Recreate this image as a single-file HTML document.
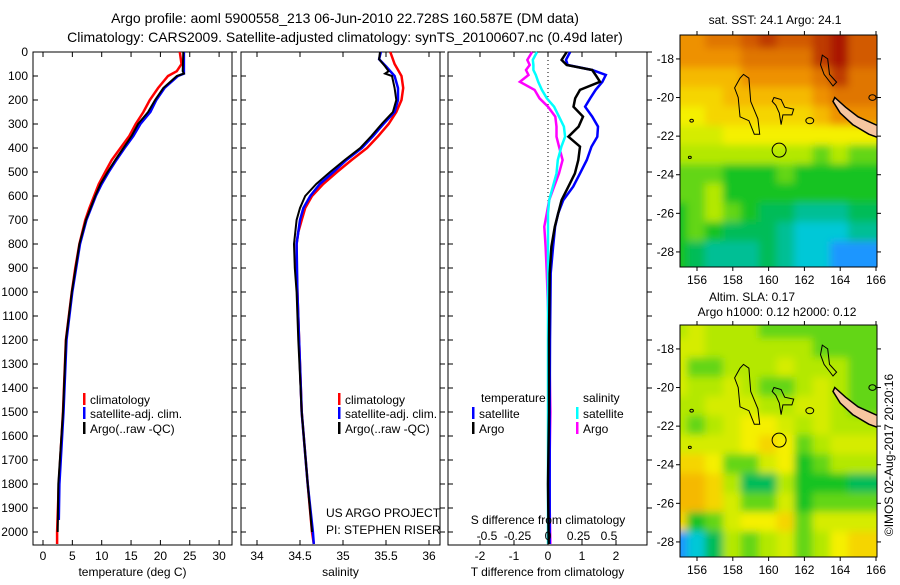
<!DOCTYPE html>
<html><head><meta charset="utf-8">
<style>
html,body{margin:0;padding:0;background:#fff;}
body{width:900px;height:580px;overflow:hidden;font-family:"Liberation Sans",sans-serif;}
svg text{font-family:"Liberation Sans",sans-serif;fill:#000;}
</style></head>
<body>
<svg id="fig" width="900" height="580" viewBox="0 0 900 580" xmlns="http://www.w3.org/2000/svg">
<text x="345" y="23" font-size="14" text-anchor="middle">Argo profile: aoml 5900558_213 06-Jun-2010 22.728S 160.587E (DM data)</text>
<text x="345" y="42" font-size="14" text-anchor="middle">Climatology: CARS2009. Satellite-adjusted climatology: synTS_20100607.nc (0.49d later)</text>
<text x="775" y="24" font-size="12" text-anchor="middle">sat. SST: 24.1 Argo: 24.1</text>
<text x="752" y="301" font-size="12" text-anchor="middle">Altim. SLA: 0.17</text>
<text x="777" y="316" font-size="12" text-anchor="middle">Argo h1000: 0.12 h2000: 0.12</text>
<text transform="translate(893,455) rotate(-90)" font-size="12" text-anchor="middle">©IMOS 02-Aug-2017 20:20:16</text>
<g id="plots"></g>
</svg>
<script>
// ---------- data ----------
const depthTicks=[0,100,200,300,400,500,600,700,800,900,1000,1100,1200,1300,1400,1500,1600,1700,1800,1900,2000];
const tempTicks=[0,5,10,15,20,25,30];
const salTicks=[34,34.5,35,35.5,36];
const tdiffTicks=[-2,-1,0,1,2];
const sdiffTicks=[-0.5,-0.25,0,0.25,0.5];

const tClimDepth=[0,50,80,100,150,200,250,300,350,400,450,500,550,600,650,700,800,900,1000,1200,1500,1800,2000,2050];
const tClimVal=[23.3,23.6,22.8,21.3,19.6,18.2,17.1,15.8,14.7,13.2,11.7,10.6,9.5,8.7,7.9,7.2,6.2,5.5,4.9,3.9,3.4,2.7,2.4,2.4];
const tArgoDepth=[0,80,90,100,150,200,250,300,350,400,450,500,550,600,700,800,1000,1200,1500,1800,2000];
const tArgoVal=[23.9,23.8,24.0,22.8,20.5,19.1,17.9,16.2,15.1,13.7,12.3,11.0,9.8,8.9,7.3,6.2,4.9,3.9,3.4,2.6,2.5];
const tSatDepth=[0,90,100,150,200,250,300,350,400,450,500,550,600,700,800,1000,1200,1500,1800,1950];
const tSatVal=[24.0,24.0,23.0,20.7,19.3,18.3,16.6,15.4,13.9,12.5,11.2,10.0,9.0,7.4,6.3,5.0,4.0,3.5,2.8,2.7];

const sClimDepth=[0,50,100,150,200,250,300,350,400,450,500,550,600,650,700,750,800,900,1000,1200,1500,1800,2000,2050];
const sClimVal=[35.55,35.60,35.68,35.70,35.68,35.62,35.53,35.41,35.28,35.10,34.93,34.77,34.64,34.56,34.52,34.48,34.46,34.46,34.47,34.49,34.52,34.59,34.64,34.66];
const sArgoDepth=[0,30,60,80,90,100,150,200,250,300,350,400,450,500,550,600,650,700,800,900,1000,1200,1500,1800,2000];
const sArgoVal=[35.43,35.42,35.49,35.53,35.49,35.57,35.60,35.62,35.58,35.45,35.33,35.20,35.02,34.85,34.69,34.56,34.50,34.46,34.43,34.44,34.46,34.48,34.52,34.59,34.64];
const sSatDepth=[0,30,60,100,150,200,250,300,350,400,450,500,550,600,650,700,800,1000,1200,1500,1800,2000,2050];
const sSatVal=[35.44,35.42,35.50,35.60,35.64,35.64,35.60,35.47,35.35,35.22,35.04,34.89,34.73,34.62,34.54,34.50,34.46,34.47,34.49,34.52,34.59,34.65,34.66];

const dDepth=[0,33,54,75,96,124,158,193,228,269,311,353,394,450,506,561,617,672,728,811,922,1200,1500,1800,2050];
const dTSat=[0.65,0.53,0.58,1.3,1.7,1.6,1.4,1.24,1.09,1.3,1.47,1.45,1.28,1.14,0.94,0.74,0.45,0.3,0.21,0.15,0.08,0.06,0.05,0.05,0.05];
const dTArgo=[0.55,0.4,0.55,1.3,1.4,1.53,0.94,0.8,0.75,1.03,0.9,0.6,0.94,0.89,0.79,0.6,0.4,0.3,0.2,0.1,0.05,0.03,0.03,0.0,0.02];
const dSArgo=[-0.13,-0.17,-0.15,-0.18,-0.16,-0.23,-0.11,-0.07,0.0,0.06,0.07,0.07,0.09,0.12,0.09,0.05,0.01,-0.01,-0.03,-0.02,-0.01,0.01,0.02,0.01,0.02];
const dSSat=[-0.09,-0.125,-0.12,-0.12,-0.1,-0.08,-0.05,-0.01,0.05,0.09,0.13,0.14,0.11,0.08,0.07,0.04,0.01,0.0,0.0,0.0,0.0,0.0,0.0,0.0,0.0];

const lonTicks=[156,158,160,162,164,166];
const latTicks=[-18,-20,-22,-24,-26,-28];
const gridLats=[-17,-18,-19,-20,-21,-22,-23,-24,-25,-26,-27,-28];
const gridLons=[155,156,157,158,159,160,161,162,163,164,165];
const sstGrid=[
[7.5,7.5,8,8,8.5,9,8.5,8.5,9,9.5,8.5],
[7.5,7.5,7.5,7.5,8,8,8,8,9,9.5,8.5],
[7,7,7,7,7.5,7.5,7.5,7.5,8,9,8],
[6.5,6.5,6.5,7,7,7,7,7,7.5,8,8],
[6,6,6.5,6.5,6.5,6.5,6.5,6.5,7,7.5,7.5],
[5.5,5.5,5.5,6,6,6,6,6,6,6,6],
[5,5,5,5,5,5,5,5,4.5,5,4.5],
[4.5,4.5,4.5,4,4,4,4.5,4,4,4,4],
[4.5,4.5,5,4,4,4,4,4,4,4,4],
[4,4.5,5,4.5,4,3.5,3.5,3,3,3,3.5],
[4,4.5,4,3.5,3.5,3.5,3,2.5,2.5,2.5,3],
[4,3.5,3,3,3,3.5,3,2.5,2.5,2,2]];
const slaGrid=[
[5,5.5,5,5,5,4.5,4.5,4.5,4.5,4.5,4.5],
[5.5,5.5,5,5,5,5,5,5,4.5,4.5,4.5],
[5.5,4.5,4.5,5,5,5,5.5,5,5,5,4.5],
[5.5,5,5,5.5,5,4.5,4.5,5,5.5,5,4.5],
[5,5,5.5,5.5,5.5,5,5,5.5,5.5,5,4.5],
[5,4.5,5,5.5,6,6,5.5,5,5.5,5,5],
[5.5,5.5,5.5,5.5,6,6.5,6,4.5,5,5.5,5.5],
[6.5,6.5,6,4.5,4.5,5.5,6,4,4.5,5,5],
[7,7,6.5,5,3.5,3.5,5,4,4,4,3.5],
[7,7,6.5,5.5,4.5,4.5,5.5,4,4.5,4.5,4.5],
[6.5,4,4.5,5.5,6,6,6.5,4.5,5.5,5.5,5.5],
[2,2.5,3.5,5,4.5,5,5.5,4.5,5,6,6.5]];
const argoLon=160.587, argoLat=-22.728;

// ---------- helpers ----------
const NS='http://www.w3.org/2000/svg';
const root=document.getElementById('plots');
function mk(tag,attrs,parent){const e=document.createElementNS(NS,tag);for(const k in attrs)e.setAttribute(k,attrs[k]);(parent||root).appendChild(e);return e;}
const TOP=52, BOT=545;
function yD(d){return TOP+d*0.24;}
const colors={red:'#ff0000',blue:'#0000ff',black:'#000000',cyan:'#00ffff',mag:'#ff00ff'};

function drawPanel(name,x0,x1,xf,ticks,labels,title,showDepth){
  const g=mk('g',{});
  
  
  const fr=mk('rect',{x:x0,y:TOP,width:x1-x0,height:BOT-TOP,fill:'none',stroke:'#000','stroke-width':1},g);
  
  
  depthTicks.forEach(d=>{
    const y=yD(d);
    mk('line',{x1:x0,x2:x0+5,y1:y,y2:y,stroke:'#000'},g);
    mk('line',{x1:x1,x2:x1+5,y1:y,y2:y,stroke:'#000'},g);
    if(showDepth){
      const t=mk('text',{x:x0-5,y:y+4,'font-size':12,'text-anchor':'end'},g);
      t.textContent=d;
      
      
    }
  });
  ticks.forEach((v,i)=>{
    const x=xf(v);
    mk('line',{x1:x,x2:x,y1:TOP,y2:TOP+5,stroke:'#000'},g);
    mk('line',{x1:x,x2:x,y1:BOT,y2:BOT-5,stroke:'#000'},g);
    const t=mk('text',{x:x,y:560,'font-size':12,'text-anchor':'middle'},g);
    t.textContent=labels[i];
    
    
  });
  const tt=mk('text',{x:(x0+x1)/2,y:576,'font-size':12,'text-anchor':'middle'},g);
  tt.textContent=title;
  
  
  return g;
}
function line(g,name,xs,ds,xf,col,w){
  const pts=xs.map((v,i)=>xf(v).toFixed(1)+','+yD(ds[i]).toFixed(1)).join(' ');
  const p=mk('polyline',{points:pts,fill:'none',stroke:col,'stroke-width':w||2.5,'stroke-linejoin':'miter'},g);
  
  
}
function legendRow(g,name,x,y,col,txt){
  mk('rect',{x:x,y:y-10,width:2.5,height:12,fill:col},g);
  const t=mk('text',{x:x+7,y:y+1,'font-size':12},g);
  t.textContent=txt;
  
  
}

// Temperature panel
const xT=v=>43+v*5.87;
const g1=drawPanel('temperature-panel',33,232,xT,tempTicks,tempTicks,'temperature (deg C)',true);
line(g1,'temp-climatology-line',tClimVal,tClimDepth,xT,colors.red);
line(g1,'temp-satellite-line',tSatVal,tSatDepth,xT,colors.blue);
line(g1,'temp-argo-line',tArgoVal,tArgoDepth,xT,colors.black,2);
legendRow(g1,'legend-climatology',83,403,colors.red,'climatology');
legendRow(g1,'legend-satellite-adj',83,417,colors.blue,'satellite-adj. clim.');
legendRow(g1,'legend-argo',83,432,colors.black,'Argo(..raw -QC)');

// Salinity panel
const xS=v=>257+(v-34)*86;
const g2=drawPanel('salinity-panel',241,440,xS,salTicks,salTicks,'salinity',false);
line(g2,'sal-climatology-line',sClimVal,sClimDepth,xS,colors.red);
line(g2,'sal-satellite-line',sSatVal,sSatDepth,xS,colors.blue);
line(g2,'sal-argo-line',sArgoVal,sArgoDepth,xS,colors.black,2);
legendRow(g2,'legend-climatology-2',338,403,colors.red,'climatology');
legendRow(g2,'legend-satellite-adj-2',338,417,colors.blue,'satellite-adj. clim.');
legendRow(g2,'legend-argo-2',338,432,colors.black,'Argo(..raw -QC)');
[['US ARGO PROJECT',517],['PI: STEPHEN RISER',534]].forEach(([s,y])=>{
  const t=mk('text',{x:326,y:y,'font-size':12},g2);t.textContent=s;
  
  
});

// Difference panel
const xDT=v=>548+v*34;
const xDS=v=>548+v*122;
const g3=drawPanel('difference-panel',448,647,xDT,tdiffTicks,tdiffTicks,'T difference from climatology',false);
const zl=mk('line',{x1:548,x2:548,y1:TOP,y2:BOT,stroke:'#000','stroke-dasharray':'1,3'},g3);


line(g3,'sdiff-argo-line',dSArgo,dDepth,xDS,colors.mag);
line(g3,'sdiff-satellite-line',dSSat,dDepth,xDS,colors.cyan);
line(g3,'tdiff-satellite-line',dTSat,dDepth,xDT,colors.blue);
line(g3,'tdiff-argo-line',dTArgo,dDepth,xDT,colors.black);
sdiffTicks.forEach(v=>{const t=mk('text',{x:xDS(v),y:540,'font-size':12,'text-anchor':'middle'},g3);t.textContent=v;
  });
const st=mk('text',{x:548,y:524,'font-size':12,'text-anchor':'middle'},g3);st.textContent='S difference from climatology';

const h1=mk('text',{x:481,y:402,'font-size':12},g3);h1.textContent='temperature';

const h2=mk('text',{x:583,y:402,'font-size':12},g3);h2.textContent='salinity';

legendRow(g3,'legend-t-satellite',472,417,colors.blue,'satellite');
legendRow(g3,'legend-t-argo',472,432,colors.black,'Argo');
legendRow(g3,'legend-s-satellite',576,417,colors.cyan,'satellite');
legendRow(g3,'legend-s-argo',576,432,colors.mag,'Argo');

// ---------- maps ----------
const cstops=[[0,[0,0,170]],[2,[30,150,255]],[2.5,[0,200,215]],[3.3,[0,185,110]],[4,[20,195,35]],[5,[180,232,0]],[6,[245,240,0]],[7,[245,185,0]],[7.5,[238,145,0]],[8.5,[210,90,0]],[9.5,[170,25,0]],[10,[150,0,0]]];
function cmap(v){for(let i=1;i<cstops.length;i++){if(v<=cstops[i][0]){const a=cstops[i-1],b=cstops[i];const f=(v-a[0])/(b[0]-a[0]);const c=a[1].map((q,k)=>Math.round(q+(b[1][k]-q)*f));return 'rgb('+c+')';}}return 'rgb(150,0,0)';}

function drawMap(name,top,grid,showX){
  const L=680,R=877,H=232;
  const lonX=lon=>L+(lon-155.05)*17.9;
  const latY=lat=>top+(-16.76-lat)*19.3;
  const g=mk('g',{});
  
  
  const cid='clip-'+name;
  const cp=mk('clipPath',{id:cid},g);mk('rect',{x:L,y:top,width:R-L,height:H},cp);
  const fid='blur-'+name;
  const fl=mk('filter',{id:fid,x:'-10%',y:'-10%',width:'120%',height:'120%'},g);mk('feGaussianBlur',{stdDeviation:4},fl);
  const cg=mk('g',{'clip-path':'url(#'+cid+')'},g);
  const hg=mk('g',{filter:'url(#'+fid+')'},cg);
  const nr=grid.length, nc=grid[0].length;
  grid.forEach((row,i)=>row.forEach((v,j)=>{
    const lat=gridLats[i],lon=gridLons[j];
    let x=lonX(lon-0.5)-1, y=latY(lat+0.5)-1, w=17.9+2, h=19.3+2;
    if(j===0){x-=25;w+=25;} if(j===nc-1){w+=25;}
    if(i===0){y-=25;h+=25;} if(i===nr-1){h+=25;}
    const r=mk('rect',{x:x,y:y,width:w,height:h,fill:cmap(v)},hg);
    
    
  }));
  const poly=(pts,fill,sw)=>mk('path',{d:'M'+pts.map(q=>lonX(q[0]).toFixed(1)+','+latY(q[1]).toFixed(1)).join(' L')+' Z',fill:fill,stroke:'#000','stroke-width':sw||1},cg);
  const ncl=poly([[163.7,-20.0],[164.3,-20.5],[165.0,-21.0],[166.2,-21.5],[166.2,-22.1],[165.6,-21.9],[164.7,-21.4],[164.0,-20.8],[163.6,-20.2]],'#f7c6a0',1.5);
  
  const r1=poly([[158.6,-18.8],[158.9,-19.0],[159.0,-20.2],[159.4,-21.1],[159.5,-21.9],[159.2,-21.9],[158.9,-21.2],[158.4,-21.0],[158.3,-20.0],[158.1,-19.5],[158.4,-19.0]],'none');
  
  const r2=poly([[160.3,-20.0],[160.7,-20.1],[160.9,-20.5],[161.4,-20.6],[161.3,-20.9],[160.8,-20.9],[160.7,-21.4],[160.6,-20.8],[160.4,-20.4],[160.2,-20.2]],'none');
  
  const r3=poly([[163.0,-17.8],[163.3,-18.0],[163.4,-18.8],[163.8,-19.2],[163.6,-19.4],[163.1,-18.8],[162.9,-18.3]],'none');
  
  [[162.3,-21.2,0.22],[165.8,-20.0,0.2],[155.7,-21.2,0.1],[155.6,-23.1,0.08]].forEach(c=>{
    mk('ellipse',{cx:lonX(c[0]),cy:latY(c[1]),rx:c[2]*17.9,ry:c[2]*14,fill:'none',stroke:'#000'},cg);});
  const ac=mk('circle',{cx:lonX(argoLon),cy:latY(argoLat),r:7,fill:'none',stroke:'#000','stroke-width':1},cg);
  
  mk('rect',{x:L,y:top,width:R-L,height:H,fill:'none',stroke:'#000'},g);
  lonTicks.forEach(v=>{const x=lonX(v);
    mk('line',{x1:x,x2:x,y1:top,y2:top-4,stroke:'#000'},g);
    mk('line',{x1:x,x2:x,y1:top+H,y2:top+H+4,stroke:'#000'},g);
    const t=mk('text',{x:x,y:top+H+17,'font-size':12,'text-anchor':'middle'},g);t.textContent=v;
    });
  latTicks.forEach(v=>{const y=latY(v);
    mk('line',{x1:L,x2:L-4,y1:y,y2:y,stroke:'#000'},g);
    mk('line',{x1:R,x2:R+4,y1:y,y2:y,stroke:'#000'},g);
    const t=mk('text',{x:L-6,y:y+4,'font-size':12,'text-anchor':'end'},g);t.textContent=v;
    });
}
drawMap('sst-map',35,sstGrid);
drawMap('sla-map',325,slaGrid);
</script>
</body></html>
